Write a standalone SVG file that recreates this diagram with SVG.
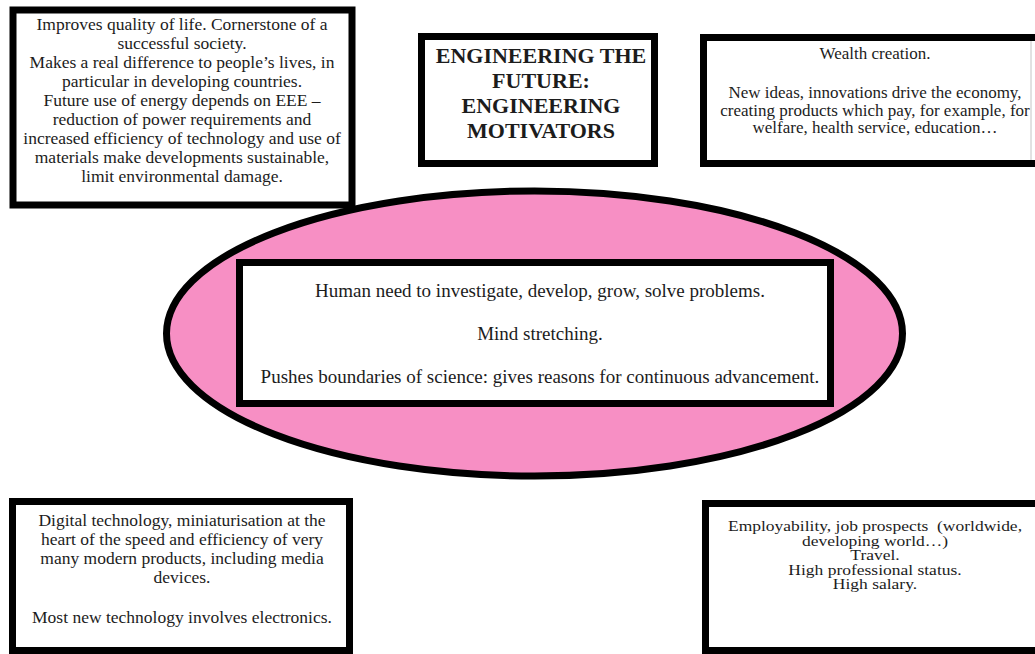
<svg xmlns="http://www.w3.org/2000/svg" width="1035" height="654" viewBox="0 0 1035 654">
  <style>
    .box { fill: #ffffff; stroke: #000000; stroke-width: 7; }
    .t { font-family: "Liberation Serif", "Times New Roman", serif; font-size: 17.5px; fill: #1c1c1c; text-anchor: middle; }
    .title { font-family: "Liberation Serif", "Times New Roman", serif; font-size: 22px; font-weight: bold; fill: #1c1c1c; text-anchor: middle; }
    .core { font-family: "Liberation Serif", "Times New Roman", serif; font-size: 19px; fill: #1c1c1c; text-anchor: middle; }
    .wide { font-size: 14px; }
  </style>
  <rect width="1035" height="654" fill="#ffffff"/>

  <!-- central motivator: pink ellipse with framed text -->
  <g id="core">
    <ellipse cx="534.5" cy="333.5" rx="368" ry="142.5" fill="#f78fc4" stroke="#000000" stroke-width="7"/>
    <rect class="box" x="239.5" y="262.5" width="591" height="141" stroke-width="9"/>
    <text class="core" x="540" y="297">Human need to investigate, develop, grow, solve problems.</text>
    <text class="core" x="540" y="340">Mind stretching.</text>
    <text class="core" x="540" y="383">Pushes boundaries of science: gives reasons for continuous advancement.</text>
  </g>

  <!-- title -->
  <g id="title">
    <rect class="box" x="421.5" y="36.5" width="233" height="127" stroke-width="9"/>
    <text class="title" x="541" y="63">ENGINEERING THE</text>
    <text class="title" x="541" y="88">FUTURE:</text>
    <text class="title" x="541" y="113">ENGINEERING</text>
    <text class="title" x="541" y="138">MOTIVATORS</text>
  </g>

  <!-- quality of life -->
  <g id="quality-of-life">
    <rect class="box" x="13" y="10" width="339" height="195" stroke-width="6"/>
    <text class="t" x="182" y="30">Improves quality of life. Cornerstone of a</text>
    <text class="t" x="182" y="49">successful society.</text>
    <text class="t" x="182" y="68">Makes a real difference to people’s lives, in</text>
    <text class="t" x="182" y="87">particular in developing countries.</text>
    <text class="t" x="182" y="106">Future use of energy depends on EEE –</text>
    <text class="t" x="182" y="125">reduction of power requirements and</text>
    <text class="t" x="182" y="144">increased efficiency of technology and use of</text>
    <text class="t" x="182" y="163">materials make developments sustainable,</text>
    <text class="t" x="182" y="182">limit environmental damage.</text>
  </g>

  <!-- wealth creation -->
  <g id="wealth-creation">
    <rect class="box" x="703.5" y="37.5" width="340" height="126"/>
    <line x1="1031" y1="41" x2="1031" y2="160" stroke="#c4c4c4" stroke-width="1"/>
    <text class="t" x="875" y="59" style="font-size:17px">Wealth creation.</text>
    <text class="t" x="875" y="98" style="font-size:17px">New ideas, innovations drive the economy,</text>
    <text class="t" x="875" y="116" style="font-size:17px">creating products which pay, for example, for</text>
    <text class="t" x="875" y="133" style="font-size:17px">welfare, health service, education…</text>
  </g>

  <!-- digital technology -->
  <g id="digital-technology">
    <rect class="box" x="12.5" y="501.5" width="337" height="149"/>
    <text class="t" x="182" y="526">Digital technology, miniaturisation at the</text>
    <text class="t" x="182" y="545">heart of the speed and efficiency of very</text>
    <text class="t" x="182" y="564">many modern products, including media</text>
    <text class="t" x="182" y="583">devices.</text>
    <text class="t" x="182" y="623">Most new technology involves electronics.</text>
  </g>

  <!-- employability: text set wide (horizontal scale about x = 875) -->
  <g id="employability">
    <rect class="box" x="705.5" y="503.5" width="340" height="147" stroke-width="6"/>
    <g transform="matrix(1.25 0 0 1 -218.75 0)">
      <text class="t wide" x="875" y="531" xml:space="preserve">Employability, job prospects  (worldwide,</text>
      <text class="t wide" x="875" y="546">developing world…)</text>
      <text class="t wide" x="875" y="560">Travel.</text>
      <text class="t wide" x="875" y="575">High professional status.</text>
      <text class="t wide" x="875" y="589">High salary.</text>
    </g>
  </g>

  <g id="connectors"/>
</svg>
